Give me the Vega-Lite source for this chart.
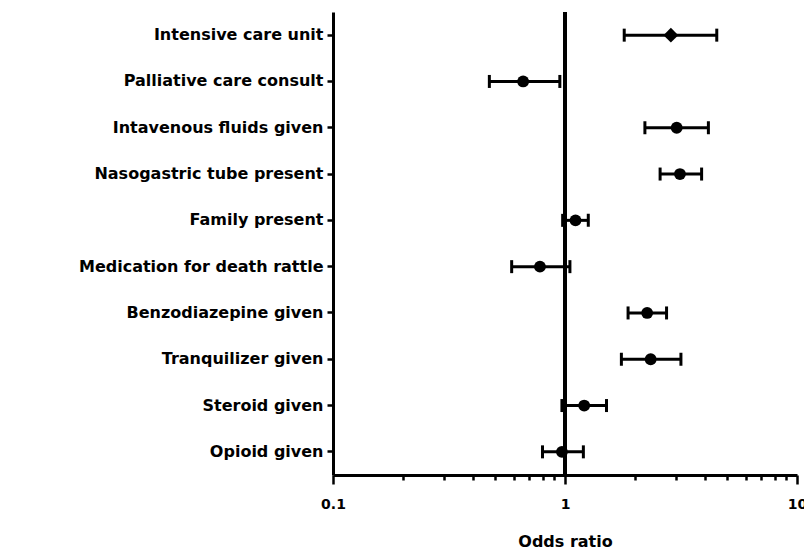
{
  "$schema": "https://vega.github.io/schema/vega-lite/v6.json",
  "autosize": "none",
  "width": 464,
  "height": 463,
  "padding": {"left": 333, "top": 12, "right": 7, "bottom": 77},
  "background": "white",
  "config": {"view": {"stroke": null}},
  "data": {"values": [
    {"factor": "Intensive care unit", "or": 2.86, "low": 1.80, "high": 4.51},
    {"factor": "Palliative care consult", "or": 0.66, "low": 0.472, "high": 0.95},
    {"factor": "Intavenous fluids given", "or": 3.03, "low": 2.21, "high": 4.15},
    {"factor": "Nasogastric tube present", "or": 3.13, "low": 2.57, "high": 3.88},
    {"factor": "Family present", "or": 1.11, "low": 0.977, "high": 1.26},
    {"factor": "Medication for death rattle", "or": 0.78, "low": 0.589, "high": 1.05},
    {"factor": "Benzodiazepine given", "or": 2.26, "low": 1.87, "high": 2.74},
    {"factor": "Tranquilizer given", "or": 2.34, "low": 1.75, "high": 3.16},
    {"factor": "Steroid given", "or": 1.21, "low": 0.97, "high": 1.51},
    {"factor": "Opioid given", "or": 0.97, "low": 0.80, "high": 1.20}
  ]},
  "encoding": {
    "y": {
      "field": "factor", "type": "nominal", "sort": null,
      "scale": {"paddingInner": 0, "paddingOuter": 0},
      "axis": {
        "title": null, "domainColor": "black", "domainWidth": 3,
        "tickColor": "black", "tickWidth": 2.5, "tickSize": 6,
        "labelPadding": 4, "labelFont": "DejaVu Sans", "labelFontWeight": "bold",
        "labelFontSize": 16, "labelColor": "black", "labelLimit": 400
      }
    }
  },
  "layer": [
    {
      "mark": {"type": "rule", "color": "black", "strokeWidth": 3},
      "encoding": {"x": {"datum": 1, "type": "quantitative", "scale": {"type": "log", "domain": [0.1, 10], "nice": false}}, "y": null}
    },
    {
      "mark": {"type": "rule", "color": "black", "strokeWidth": 3},
      "encoding": {
        "x": {"field": "low", "type": "quantitative",
          "scale": {"type": "log", "domain": [0.1, 10], "nice": false},
          "axis": {
            "title": "Odds ratio", "titleFont": "DejaVu Sans", "titleFontWeight": "bold",
            "titleFontSize": 16, "titleColor": "black", "titlePadding": 22,
            "values": [0.1,0.2,0.3,0.4,0.5,0.6,0.7,0.8,0.9,1,2,3,4,5,6,7,8,9,10],
            "labelExpr": "indexof([0.1,1,10], datum.value) >= 0 ? format(datum.value, '~g') : ''",
            "domainColor": "black", "domainWidth": 3,
            "tickColor": "black", "tickWidth": 2.5,
            "tickSize": {"condition": {"test": "indexof([0.1,1,10], datum.value) >= 0", "value": 9}, "value": 5},
            "labelFont": "DejaVu Sans", "labelFontWeight": "bold", "labelFontSize": 14,
            "labelColor": "black", "labelPadding": 13, "labelFlush": false, "labelOverlap": false, "grid": false
          }
        },
        "x2": {"field": "high"}
      }
    },
    {
      "mark": {"type": "tick", "color": "black", "opacity": 1, "orient": "vertical", "size": 13, "thickness": 3},
      "encoding": {"x": {"field": "low", "type": "quantitative"}}
    },
    {
      "mark": {"type": "tick", "color": "black", "opacity": 1, "orient": "vertical", "size": 13, "thickness": 3},
      "encoding": {"x": {"field": "high", "type": "quantitative"}}
    },
    {
      "mark": {"type": "point", "filled": true, "color": "black", "opacity": 1},
      "encoding": {
        "x": {"field": "or", "type": "quantitative"},
        "shape": {"condition": {"test": "datum.factor === 'Intensive care unit'", "value": "diamond"}, "value": "circle"},
        "size": {"condition": {"test": "datum.factor === 'Intensive care unit'", "value": 220}, "value": 140}
      }
    }
  ]
}
